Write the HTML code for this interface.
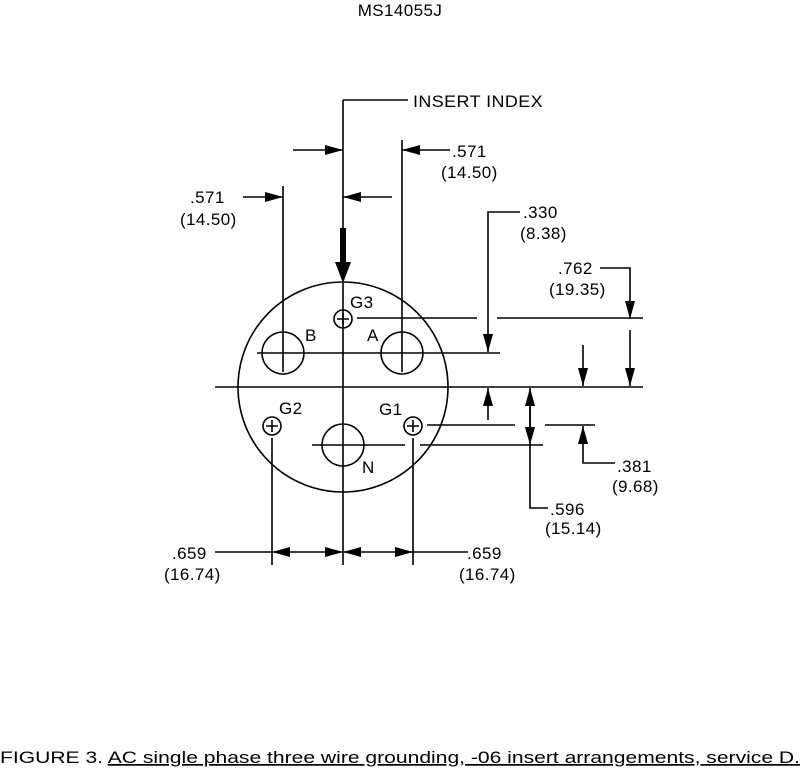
<!DOCTYPE html>
<html><head><style>
html,body{margin:0;padding:0;background:#fff;}
svg{display:block;font-family:"Liberation Sans",Arial,sans-serif;}
</style></head><body>
<svg width="801" height="771" viewBox="0 0 801 771" xmlns="http://www.w3.org/2000/svg">
<defs>
<marker id="a" viewBox="0 0 18 10" refX="18" refY="5" markerWidth="18" markerHeight="10" markerUnits="userSpaceOnUse" orient="auto"><path d="M0,0 L18,5 L0,10 z" fill="#000"/></marker>
</defs>
<g font-size="17" fill="#000" letter-spacing="0.4">
<text x="400" y="16" text-anchor="middle">MS14055J</text>
<text x="413" y="107" textLength="130" lengthAdjust="spacingAndGlyphs">INSERT INDEX</text>
<text x="452" y="157">.571</text>
<text x="441" y="178">(14.50)</text>
<text x="190" y="203">.571</text>
<text x="180" y="225">(14.50)</text>
<text x="523" y="218">.330</text>
<text x="520" y="239">(8.38)</text>
<text x="558" y="274">.762</text>
<text x="549" y="295">(19.35)</text>
<text x="350" y="308">G3</text>
<text x="305" y="341">B</text>
<text x="367" y="341">A</text>
<text x="279" y="414">G2</text>
<text x="379" y="415">G1</text>
<text x="362" y="473">N</text>
<text x="617" y="472">.381</text>
<text x="612" y="492">(9.68)</text>
<text x="550" y="515">.596</text>
<text x="545" y="534">(15.14)</text>
<text x="172" y="559">.659</text>
<text x="164" y="580">(16.74)</text>
<text x="467" y="559">.659</text>
<text x="459" y="580">(16.74)</text>
</g>
<text x="0" y="763" font-size="17" textLength="800" lengthAdjust="spacingAndGlyphs">FIGURE 3.  <tspan text-decoration="underline">AC single phase three wire grounding, -06 insert arrangements, service D.</tspan></text>
<g stroke="#000" stroke-width="1.6" fill="none">
<circle cx="343" cy="387" r="105"/>
<circle cx="283" cy="353" r="21"/>
<circle cx="402" cy="353" r="21"/>
<circle cx="343" cy="445" r="21"/>
<circle cx="343" cy="319" r="9"/>
<circle cx="272" cy="426" r="9"/>
<circle cx="413" cy="426" r="9"/>
<path d="M337,319h12M343,313v12M266,426h12M272,420v12M407,426h12M413,420v12"/>
<path d="M343,100V228M343,282V565"/>
<path d="M283,186V372M402,140V372"/>
<path d="M272,438V565M413,438V565"/>
<path d="M343,100H408"/>
<path d="M215,387H643"/>
<path d="M257,353H500"/>
<path d="M357,318H477M497,318H643"/>
<path d="M427,425H515M545,425H595"/>
<path d="M312,445H405M420,445H543"/>
<path d="M293,150H343" marker-end="url(#a)"/>
<path d="M392,197H343" marker-end="url(#a)"/>
<path d="M450,150H402" marker-end="url(#a)"/>
<path d="M243,197H283" marker-end="url(#a)"/>
<path d="M520,212H488V352" marker-end="url(#a)"/>
<path d="M600,268H630V319" marker-end="url(#a)"/>
<path d="M630,330V386" marker-end="url(#a)"/>
<path d="M583,345V386" marker-end="url(#a)"/>
<path d="M488,420V388" marker-end="url(#a)"/>
<path d="M530,440V388" marker-end="url(#a)"/>
<path d="M530,400V445" marker-end="url(#a)"/>
<path d="M548,508H530V445"/>
<path d="M615,463H583V426" marker-end="url(#a)"/>
<path d="M215,552H272"/>
<path d="M307,552H272" marker-end="url(#a)"/>
<path d="M307,552H343" marker-end="url(#a)"/>
<path d="M378,552H343" marker-end="url(#a)"/>
<path d="M378,552H413" marker-end="url(#a)"/>
<path d="M413,552H468"/>
</g>
<rect x="340" y="228" width="6" height="36" fill="#000"/>
<path d="M335,262 L351,262 L343,283 z" fill="#000"/>
</svg>
</body></html>
